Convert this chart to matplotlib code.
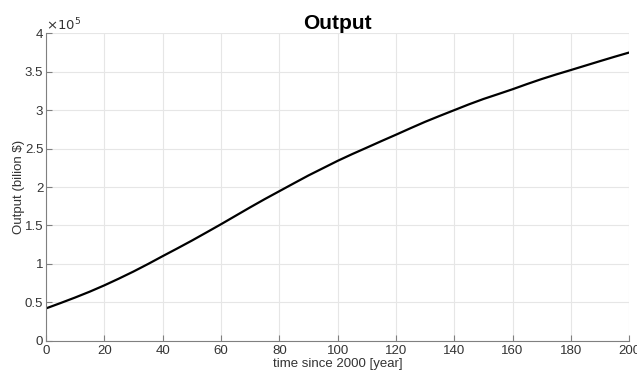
import matplotlib
matplotlib.use("Agg")
import matplotlib.pyplot as plt
from matplotlib.ticker import FuncFormatter, MultipleLocator

plt.rcParams['font.family'] = ['Liberation Sans', 'DejaVu Sans']

years = [0, 5, 10, 15, 20, 25, 30, 35, 40, 45, 50, 55, 60, 65, 70, 75, 80, 85, 90, 95, 100,
         105, 110, 115, 120, 125, 130, 135, 140, 145, 150, 155, 160, 165, 170, 175, 180,
         185, 190, 195, 200]
output = [0.420e5, 0.490e5, 0.562e5, 0.638e5, 0.720e5, 0.808e5, 0.900e5, 0.998e5, 1.100e5,
          1.200e5, 1.302e5, 1.408e5, 1.515e5, 1.625e5, 1.735e5, 1.842e5, 1.945e5, 2.048e5,
          2.150e5, 2.245e5, 2.340e5, 2.428e5, 2.512e5, 2.597e5, 2.680e5, 2.765e5, 2.848e5,
          2.925e5, 3.000e5, 3.075e5, 3.145e5, 3.208e5, 3.272e5, 3.340e5, 3.405e5, 3.465e5,
          3.522e5, 3.580e5, 3.638e5, 3.695e5, 3.750e5]

fig = plt.figure(figsize=(6.37, 3.76), dpi=100)
ax = fig.add_axes([0.0722, 0.0939, 0.9155, 0.8175])

ax.plot(years, output, color='black', lw=1.6)

ax.set_xlim(0, 200)
ax.set_ylim(0, 4e5)
ax.xaxis.set_major_locator(MultipleLocator(20))
ax.yaxis.set_major_locator(MultipleLocator(0.5e5))
ax.yaxis.set_major_formatter(FuncFormatter(lambda v, p: '%g' % (v / 1e5)))

gray = '#808080'
for s in ['top', 'right']:
    ax.spines[s].set_visible(False)
for s in ['left', 'bottom']:
    ax.spines[s].set_color(gray)
    ax.spines[s].set_linewidth(0.8)
ax.tick_params(direction='in', colors=gray, labelcolor='#333333', labelsize=9.5, length=4,
               width=0.8)
ax.tick_params(axis='x', pad=3)
ax.tick_params(axis='y', pad=2)
ax.grid(True, color='#e6e6e6', lw=0.8)
ax.set_axisbelow(True)

ax.set_title('Output', fontsize=15, fontweight='bold', color='black', pad=3)
ax.set_xlabel('time since 2000 [year]', fontsize=9.5, color='#333333', labelpad=1)
ax.set_ylabel('Output (bilion $)', fontsize=9.5, color='#333333', labelpad=0)
ax.text(0.0, 1.0, r'$\times10^{5}$', transform=ax.transAxes, fontsize=9.5, color='#333333',
        ha='left', va='bottom')

fig.savefig('out.png', dpi=100)
